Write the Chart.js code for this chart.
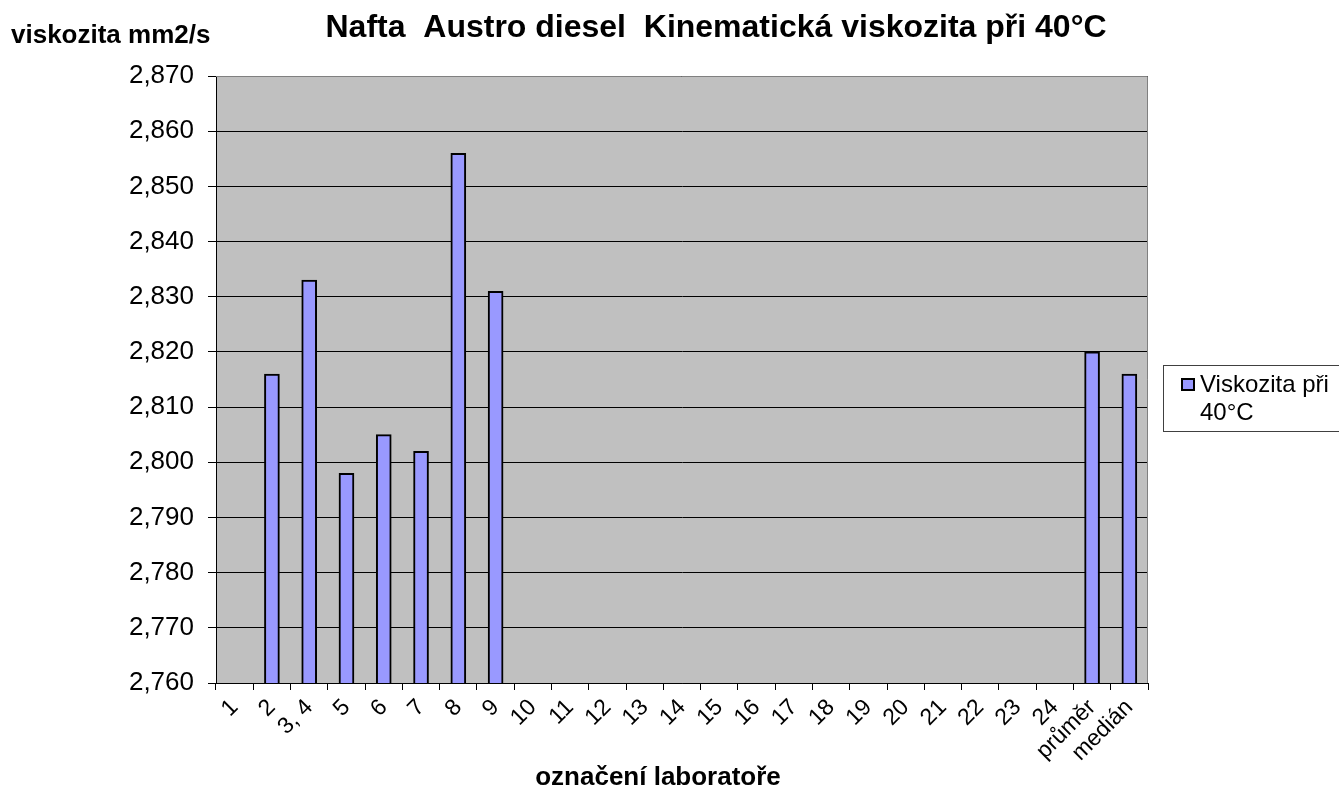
<!DOCTYPE html>
<html lang="cs">
  <head>
    <meta charset="UTF-8" />
    <title>Nafta Austro diesel - Kinematická viskozita</title>
    <script src="https://cdn.jsdelivr.net/npm/chart.js@4.4.1/dist/chart.umd.min.js"></script>
    <style>
      html, body { margin: 0; padding: 0; background: #fff; }
      canvas { display: block; }
    </style>
  </head>
  <body>
    <canvas id="chart" width="1339" height="795"></canvas>
    <script>
      // data
      const categories = [
        "1", "2", "3, 4", "5", "6", "7", "8", "9",
        "10", "11", "12", "13", "14", "15", "16", "17", "18", "19", "20",
        "21", "22", "23", "24", "průměr", "medián",
      ];
      const viscosity = [
        null, 2.816, 2.833, 2.798, 2.805, 2.802, 2.856, 2.831,
        null, null, null, null, null, null, null, null, null, null, null,
        null, null, null, null, 2.82, 2.816,
      ];
      const yMin = 2.76;
      const yMax = 2.87;
      const yStep = 0.01;

      const chartTitle = "Nafta  Austro diesel  Kinematická viskozita při 40°C";
      const yTitle = "viskozita mm2/s";
      const xTitle = "označení laboratoře";
      const seriesLabel = ["Viskozita při", "40°C"];

      const FONT = "'Liberation Sans', Arial, sans-serif";

      // grey plot background + frame
      const plotBg = {
        id: "plotBg",
        beforeDraw(chart) {
          const { ctx, chartArea: a } = chart;
          ctx.save();
          ctx.fillStyle = "#C0C0C0";
          ctx.fillRect(a.left, a.top, a.right - a.left, a.bottom - a.top);
          ctx.restore();
        },
        afterDraw(chart) {
          const { ctx, chartArea: a } = chart;
          ctx.save();
          ctx.strokeStyle = "#808080";
          ctx.lineWidth = 1;
          ctx.beginPath();
          ctx.moveTo(a.left, a.top + 0.5);
          ctx.lineTo(a.right - 0.5, a.top + 0.5);
          ctx.lineTo(a.right - 0.5, a.bottom);
          ctx.stroke();
          ctx.restore();
        },
      };

      // titles and the boxed legend, placed like the original
      const texts = {
        id: "texts",
        afterDraw(chart) {
          const ctx = chart.ctx;
          const ds = chart.data.datasets[0];
          ctx.save();
          ctx.fillStyle = "#000";
          ctx.textBaseline = "alphabetic";

          ctx.font = "bold 32px " + FONT;
          ctx.textAlign = "center";
          ctx.fillText(chartTitle, 716, 37);

          ctx.font = "bold 26px " + FONT;
          ctx.textAlign = "left";
          ctx.fillText(yTitle, 11, 43);

          ctx.textAlign = "center";
          ctx.fillText(xTitle, 658, 785);

          // legend
          ctx.strokeStyle = "#404040";
          ctx.lineWidth = 1;
          ctx.strokeRect(1163.5, 365.5, 200, 66);
          ctx.fillStyle = ds.backgroundColor;
          ctx.fillRect(1181, 378, 14, 13);
          ctx.strokeStyle = "#000";
          ctx.lineWidth = 2;
          ctx.strokeRect(1182, 379, 12, 11);
          ctx.fillStyle = "#000";
          ctx.font = "24px " + FONT;
          ctx.textAlign = "left";
          ctx.fillText(seriesLabel[0], 1200, 392);
          ctx.fillText(seriesLabel[1], 1200, 420);
          ctx.restore();
        },
      };

      new Chart(document.getElementById("chart"), {
        type: "bar",
        data: {
          labels: categories,
          datasets: [
            {
              label: seriesLabel.join(" "),
              data: viscosity,
              backgroundColor: "#9999FF",
              borderColor: "#000000",
              borderWidth: 2,
              borderSkipped: false,
              barThickness: 15,
            },
          ],
        },
        options: {
          responsive: false,
          animation: false,
          devicePixelRatio: 1,
          layout: { padding: { top: 76, right: 191, left: 0, bottom: 0 } },
          plugins: {
            legend: { display: false },
            title: { display: false },
            tooltip: { enabled: false },
          },
          scales: {
            x: {
              grid: {
                drawOnChartArea: false,
                drawTicks: true,
                tickLength: 7,
                color: "#000",
                offset: true,
              },
              border: { color: "#000", width: 1 },
              ticks: {
                autoSkip: false,
                maxRotation: 45,
                minRotation: 45,
                padding: 4,
                color: "#000",
                font: { family: FONT, size: 23 },
              },
              afterFit(scale) {
                scale.height = 112;
              },
            },
            y: {
              min: yMin,
              max: yMax,
              ticks: {
                stepSize: yStep,
                padding: 14,
                color: "#000",
                font: { family: FONT, size: 26 },
                callback: (v) => v.toFixed(3).replace(".", ","),
              },
              grid: { color: "#000", lineWidth: 1, tickLength: 8 },
              border: { color: "#000", width: 1 },
              afterFit(scale) {
                scale.width = 216;
              },
            },
          },
        },
        plugins: [plotBg, texts],
      });
    </script>
  </body>
</html>
